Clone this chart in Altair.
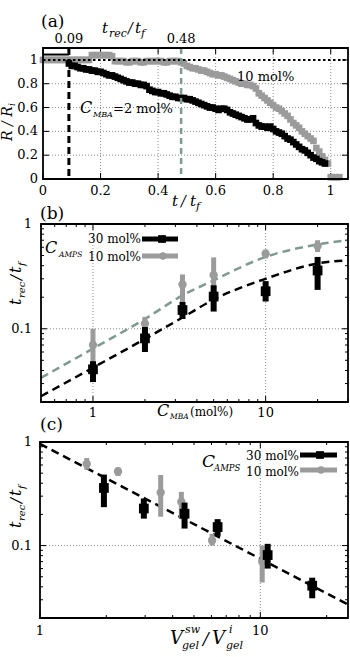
import altair as alt
import pandas as pd

FONT = "DejaVu Serif"
BLACK = "#000000"
GRAY = "#9b9b9b"
TEAL = "#7f9a90"
GRIDC = "#8c8c8c"

# ---------------- (a) normalised radius against normalised time ----------------
a_t_black = [0.09, 0.10, 0.11, 0.12, 0.13, 0.14, 0.15, 0.16, 0.17, 0.18, 0.19,
             0.20, 0.21, 0.22, 0.23, 0.24, 0.25, 0.26, 0.27, 0.28, 0.29,
             0.30, 0.31, 0.32, 0.33, 0.34, 0.35, 0.36, 0.37, 0.38, 0.39,
             0.40, 0.41, 0.42, 0.43, 0.44, 0.45, 0.46, 0.47, 0.48, 0.49,
             0.50, 0.51, 0.52, 0.53, 0.54, 0.55, 0.56, 0.57, 0.58, 0.59,
             0.60, 0.61, 0.62, 0.63, 0.64, 0.65, 0.66, 0.67, 0.68, 0.69,
             0.70, 0.71, 0.72, 0.73, 0.74, 0.75, 0.76, 0.77, 0.78, 0.79,
             0.80, 0.81, 0.82, 0.83, 0.84, 0.85, 0.86, 0.87, 0.88, 0.89,
             0.90, 0.91, 0.92, 0.93, 0.94, 0.95, 0.96, 0.97, 0.98]
a_r_black = [0.97, 0.95, 0.95, 0.94, 0.93, 0.93, 0.92, 0.92, 0.91, 0.91, 0.90,
             0.90, 0.89, 0.88, 0.87, 0.87, 0.86, 0.85, 0.84, 0.83, 0.82,
             0.81, 0.81, 0.80, 0.80, 0.79, 0.79, 0.78, 0.75, 0.74, 0.73,
             0.73, 0.72, 0.72, 0.71, 0.70, 0.69, 0.69, 0.68, 0.68, 0.68,
             0.67, 0.67, 0.66, 0.65, 0.64, 0.63, 0.62, 0.61, 0.60, 0.60,
             0.59, 0.58, 0.59, 0.59, 0.58, 0.56, 0.55, 0.54, 0.53, 0.52,
             0.51, 0.50, 0.50, 0.51, 0.47, 0.45, 0.44, 0.44, 0.43, 0.44,
             0.42, 0.40, 0.39, 0.38, 0.36, 0.34, 0.33, 0.31, 0.29, 0.27,
             0.25, 0.24, 0.22, 0.20, 0.18, 0.17, 0.15, 0.14, 0.13]

a_t_gray = [0.00, 0.01, 0.02, 0.03, 0.04, 0.05, 0.06, 0.07, 0.08, 0.09,
            0.10, 0.11, 0.12, 0.13, 0.14, 0.15, 0.16, 0.17, 0.18, 0.19,
            0.20, 0.21, 0.22, 0.23, 0.24, 0.25, 0.26, 0.27, 0.28, 0.29,
            0.30, 0.31, 0.32, 0.33, 0.34, 0.35, 0.36, 0.37, 0.38, 0.39,
            0.40, 0.41, 0.42, 0.43, 0.44, 0.45, 0.46, 0.47, 0.48, 0.49,
            0.50, 0.51, 0.52, 0.53, 0.54, 0.55, 0.56, 0.57, 0.58, 0.59,
            0.60, 0.61, 0.62, 0.63, 0.64, 0.65, 0.66, 0.67, 0.68, 0.69,
            0.70, 0.71, 0.72, 0.73, 0.74, 0.75, 0.76, 0.77, 0.78, 0.79,
            0.80, 0.81, 0.82, 0.83, 0.84, 0.85, 0.86, 0.87, 0.88, 0.89,
            0.90, 0.91, 0.92, 0.93, 0.94, 0.95, 0.96, 0.97, 0.98, 0.99,
            1.00, 1.01, 1.02, 1.03]
a_r_gray = [1.00, 1.00, 1.00, 1.00, 1.00, 1.00, 1.00, 1.00, 1.00, 1.00,
            1.00, 1.00, 1.00, 1.00, 1.00, 1.00, 1.00, 1.04, 1.04, 1.04,
            1.04, 1.04, 1.04, 1.04, 1.03, 0.99, 0.99, 0.99, 0.99, 0.98,
            0.98, 0.99, 0.99, 0.99, 0.98, 0.98, 0.99, 0.99, 0.99, 0.99,
            0.99, 0.99, 0.98, 0.98, 0.99, 0.99, 0.99, 0.99, 0.98, 0.97,
            0.95, 0.94, 0.93, 0.93, 0.92, 0.91, 0.91, 0.90, 0.89, 0.88,
            0.88, 0.87, 0.87, 0.86, 0.85, 0.84, 0.83, 0.82, 0.81, 0.80,
            0.80, 0.79, 0.79, 0.78, 0.76, 0.72, 0.70, 0.68, 0.66, 0.64,
            0.62, 0.60, 0.59, 0.57, 0.55, 0.53, 0.50, 0.47, 0.45, 0.43,
            0.40, 0.38, 0.36, 0.34, 0.32, 0.26, 0.23, 0.19, 0.16, 0.13,
            0.015, 0.015, 0.015, 0.015]

a_flat_t = [0.0, 0.09]
a_flat_r = [1.045, 1.045]
a_rec_t = [0.09, 0.48]
a_rec_labels = ["0.09", "0.48"]
a_ticks = [0, 0.2, 0.4, 0.6, 0.8, 1]
a_tick_labels = ["0", "0.2", "0.4", "0.6", "0.8", "1"]

# ---------------- (b) recovery time against crosslinker content ----------------
c_mba = [1, 2, 3.3, 5, 10, 20]
trec_30 = [0.041, 0.081, 0.151, 0.203, 0.228, 0.36]
lo_30 = [0.031, 0.060, 0.124, 0.146, 0.182, 0.235]
hi_30 = [0.049, 0.104, 0.180, 0.260, 0.285, 0.485]
trec_10 = [0.070, 0.112, 0.265, 0.325, 0.52, 0.615]
lo_10 = [0.044, 0.100, 0.180, 0.190, 0.47, 0.54]
hi_10 = [0.100, 0.130, 0.330, 0.480, 0.57, 0.70]

fit_c = [0.5, 1, 2, 3.3, 5, 10, 20, 30]
fit_30 = [0.0227, 0.0425, 0.080, 0.128, 0.19, 0.30, 0.42, 0.45]
fit_10 = [0.034, 0.0647, 0.124, 0.208, 0.29, 0.485, 0.638, 0.70]

# ---------------- (c) recovery time against swelling ratio ----------------
swell_30 = [17.2, 10.8, 6.4, 4.53, 2.96, 1.95]
swell_10 = [10.2, 6.04, 4.38, 3.53, 2.26, 1.63]
power_x = [1, 25]
power_y = [0.96, 0.027]

log_y_major = [0.1, 1]
log_y_labels = ["0.1", "1"]
log_y_minor = [0.02, 0.03, 0.04, 0.05, 0.06, 0.07, 0.08, 0.09,
               0.2, 0.3, 0.4, 0.5, 0.6, 0.7, 0.8, 0.9]
log_x_major = [1, 10]
log_x_labels = ["1", "10"]
b_x_minor = [0.5, 0.6, 0.7, 0.8, 0.9, 2, 3, 4, 5, 6, 7, 8, 9, 20, 30]
c_x_minor = [2, 3, 4, 5, 6, 7, 8, 9, 20]

ONE = pd.DataFrame({"k": [0]})


def txt(s, x, y, size=13, italic=False, align="left", baseline="alphabetic", angle=0):
    kw = dict(text=s, font=FONT, fontSize=size, align=align, baseline=baseline, color=BLACK)
    if italic:
        kw["fontStyle"] = "italic"
    if angle:
        kw["angle"] = angle
    return alt.Chart(ONE).mark_text(**kw).encode(x=alt.value(x), y=alt.value(y))


def frame(x0, x1, y0, y1):
    return alt.Chart(ONE).mark_rect(fillOpacity=0, stroke=BLACK, strokeWidth=1.8).encode(
        x=alt.value(x0), x2=alt.value(x1), y=alt.value(y0), y2=alt.value(y1))


def hrule(x0, x1, y, color, width):
    return alt.Chart(ONE).mark_rule(color=color, strokeWidth=width).encode(
        x=alt.value(x0), x2=alt.value(x1), y=alt.value(y))


def vals(v, labels=None):
    d = {"v": v}
    if labels is not None:
        d["lab"] = labels
    return pd.DataFrame(d)


def encoders(xs, ys):
    def X(f):
        return alt.X(f, type="quantitative", scale=xs, axis=None)

    def Y(f):
        return alt.Y(f, type="quantitative", scale=ys, axis=None)
    return X, Y


def inner_ticks(X, Y, xmaj, xmin, ymaj, ymin, x0, x1, y0, y1):
    out = []
    for v, ln in ((xmaj, 6), (xmin, 3)):
        out.append(alt.Chart(vals(v)).mark_rule(color=BLACK, strokeWidth=1).encode(
            x=X("v"), y=alt.value(y1), y2=alt.value(y1 - ln)))
        out.append(alt.Chart(vals(v)).mark_rule(color=BLACK, strokeWidth=1).encode(
            x=X("v"), y=alt.value(y0), y2=alt.value(y0 + ln)))
    for v, ln in ((ymaj, 6), (ymin, 3)):
        out.append(alt.Chart(vals(v)).mark_rule(color=BLACK, strokeWidth=1).encode(
            y=Y("v"), x=alt.value(x0), x2=alt.value(x0 + ln)))
        out.append(alt.Chart(vals(v)).mark_rule(color=BLACK, strokeWidth=1).encode(
            y=Y("v"), x=alt.value(x1), x2=alt.value(x1 - ln)))
    return out


def x_labels(X, ticks, labels, y):
    return alt.Chart(vals(ticks, labels)).mark_text(
        font=FONT, fontSize=13, baseline="middle", color=BLACK).encode(
        x=X("v"), y=alt.value(y), text="lab:N")


def y_labels(Y, ticks, labels, x):
    return alt.Chart(vals(ticks, labels)).mark_text(
        font=FONT, fontSize=13, baseline="middle", align="right", color=BLACK).encode(
        y=Y("v"), x=alt.value(x), text="lab:N")


def trec_vertical(bx, y0):
    return [
        txt("t", bx, y0, 16, True, angle=270),
        txt("rec", bx + 4, y0 - 7, 10, True, angle=270),
        txt("/", bx, y0 - 25, 15, True, angle=270),
        txt("t", bx, y0 - 32, 16, True, angle=270),
        txt("f", bx + 4, y0 - 39, 10, True, angle=270),
    ]


grid_style = dict(color=GRIDC, strokeWidth=1, strokeDash=[1, 2])
dash_style = dict(strokeWidth=2.5, strokeDash=[8, 5], interpolate="monotone")

# ================= panel (a): frame x 43..348, y 48..179 =================
XA, YA = encoders(
    alt.Scale(domain=[0, 1.06], range=[43, 348], nice=False, zero=False),
    alt.Scale(domain=[0, 1.1], range=[179, 48], nice=False, zero=False),
)
panel_a = alt.layer(
    alt.Chart(vals(a_ticks[1:])).mark_rule(**grid_style).encode(
        x=XA("v"), y=alt.value(48), y2=alt.value(179)),
    alt.Chart(vals(a_ticks[1:-1])).mark_rule(**grid_style).encode(
        y=YA("v"), x=alt.value(43), x2=alt.value(348)),
    *inner_ticks(XA, YA, a_ticks, [], a_ticks, [], 43, 348, 48, 179),
    alt.Chart(pd.DataFrame({"t": a_t_gray, "r": a_r_gray})).mark_square(
        size=44, color=GRAY, opacity=1).encode(x=XA("t"), y=YA("r")),
    alt.Chart(pd.DataFrame({"t": a_t_black, "r": a_r_black})).mark_square(
        size=44, color=BLACK, opacity=1).encode(x=XA("t"), y=YA("r")),
    alt.Chart(pd.DataFrame({"t": a_flat_t, "r": a_flat_r})).mark_line(
        color=BLACK, strokeWidth=2).encode(x=XA("t"), y=YA("r")),
    alt.Chart(vals([1.0])).mark_rule(color=BLACK, strokeWidth=2, strokeDash=[2.5, 2.5]).encode(
        y=YA("v"), x=alt.value(43), x2=alt.value(348)),
    alt.Chart(vals(a_rec_t[:1])).mark_rule(color=BLACK, strokeWidth=3, strokeDash=[7, 4]).encode(
        x=XA("v"), y=alt.value(48), y2=alt.value(179)),
    alt.Chart(vals(a_rec_t[1:])).mark_rule(color=TEAL, strokeWidth=2.5, strokeDash=[6, 4]).encode(
        x=XA("v"), y=alt.value(48), y2=alt.value(179)),
    x_labels(XA, a_rec_t, a_rec_labels, 39),
    x_labels(XA, a_ticks, a_tick_labels, 191),
    y_labels(YA, a_ticks, a_tick_labels, 38),
    frame(43, 348, 48, 179),
    txt("(a)", 41, 22, 17, baseline="middle"),
    txt("t", 102, 33, 15, True),
    txt("rec", 109, 37, 11, True),
    txt("/", 128, 33, 14, True),
    txt("t", 135, 33, 15, True),
    txt("f", 141, 37, 11, True),
    txt("R / R", 12, 141, 14, True, angle=270),
    txt("i", 15, 106, 9, True, angle=270),
    txt("t", 172, 206, 15, True),
    txt("/", 181, 206, 14, True),
    txt("t", 190, 206, 15, True),
    txt("f", 196, 210, 11, True),
    txt("10 mol%", 237, 77, 13, baseline="middle"),
    txt("C", 80, 113, 16, True),
    txt("MBA", 93, 117, 8, True),
    txt("=2 mol%", 113, 113, 13),
)

# ================= panel (b): frame x 41..348, y 224..402 =================
XB, YB = encoders(
    alt.Scale(type="log", domain=[0.5, 30], range=[41, 348], nice=False),
    alt.Scale(type="log", domain=[0.02, 1], range=[402, 224], nice=False),
)
df30 = pd.DataFrame({"c": c_mba, "y": trec_30, "lo": lo_30, "hi": hi_30})
df10 = pd.DataFrame({"c": c_mba, "y": trec_10, "lo": lo_10, "hi": hi_10})
panel_b = alt.layer(
    alt.Chart(vals(log_x_major)).mark_rule(**grid_style).encode(
        x=XB("v"), y=alt.value(224), y2=alt.value(402)),
    alt.Chart(vals([0.1])).mark_rule(**grid_style).encode(
        y=YB("v"), x=alt.value(41), x2=alt.value(348)),
    *inner_ticks(XB, YB, log_x_major, b_x_minor, log_y_major, log_y_minor, 41, 348, 224, 402),
    alt.Chart(pd.DataFrame({"c": fit_c, "y": fit_10})).mark_line(color=TEAL, **dash_style).encode(
        x=XB("c"), y=YB("y")),
    alt.Chart(pd.DataFrame({"c": fit_c, "y": fit_30})).mark_line(color=BLACK, **dash_style).encode(
        x=XB("c"), y=YB("y")),
    alt.Chart(df10).mark_rule(color=GRAY, strokeWidth=5).encode(
        x=XB("c"), y=YB("lo"), y2=alt.Y2("hi")),
    alt.Chart(df10).mark_circle(size=70, color=GRAY, opacity=1).encode(x=XB("c"), y=YB("y")),
    alt.Chart(df30).mark_rule(color=BLACK, strokeWidth=6).encode(
        x=XB("c"), y=YB("lo"), y2=alt.Y2("hi")),
    alt.Chart(df30).mark_square(size=95, color=BLACK, opacity=1).encode(x=XB("c"), y=YB("y")),
    x_labels(XB, log_x_major, log_x_labels, 413),
    y_labels(YB, log_y_major, log_y_labels, 32),
    frame(41, 348, 224, 402),
    txt("(b)", 40, 214, 17, baseline="middle"),
    *trec_vertical(21, 305),
    txt("C", 157, 416, 16, True),
    txt("MBA", 170, 419, 7.5, True),
    txt("(mol%)", 190, 416, 12),
    txt("C", 45, 253, 16, True),
    txt("AMPS", 59, 257, 7.5, True),
    txt("30 mol%", 141, 239, 12, align="right", baseline="middle"),
    hrule(142, 178, 239, BLACK, 5),
    alt.Chart(ONE).mark_square(size=60, color=BLACK, opacity=1).encode(
        x=alt.value(162), y=alt.value(239)),
    txt("10 mol%", 141, 257, 12, align="right", baseline="middle"),
    hrule(142, 178, 256, GRAY, 5),
    alt.Chart(ONE).mark_circle(size=55, color=GRAY, opacity=1).encode(
        x=alt.value(163), y=alt.value(256)),
)

# ================= panel (c): frame x 40..348, y 442..618 =================
XC, YC = encoders(
    alt.Scale(type="log", domain=[1, 25], range=[40, 348], nice=False),
    alt.Scale(type="log", domain=[0.02, 1], range=[618, 442], nice=False),
)
dc30 = pd.DataFrame({"s": swell_30, "y": trec_30, "lo": lo_30, "hi": hi_30})
dc10 = pd.DataFrame({"s": swell_10, "y": trec_10, "lo": lo_10, "hi": hi_10})
panel_c = alt.layer(
    alt.Chart(vals([10])).mark_rule(**grid_style).encode(
        x=XC("v"), y=alt.value(442), y2=alt.value(618)),
    alt.Chart(vals([0.1])).mark_rule(**grid_style).encode(
        y=YC("v"), x=alt.value(40), x2=alt.value(348)),
    *inner_ticks(XC, YC, log_x_major, c_x_minor, log_y_major, log_y_minor, 40, 348, 442, 618),
    alt.Chart(pd.DataFrame({"s": power_x, "y": power_y})).mark_line(
        color=BLACK, strokeWidth=2.5, strokeDash=[8, 5]).encode(x=XC("s"), y=YC("y")),
    alt.Chart(dc10).mark_rule(color=GRAY, strokeWidth=5).encode(
        x=XC("s"), y=YC("lo"), y2=alt.Y2("hi")),
    alt.Chart(dc10).mark_circle(size=70, color=GRAY, opacity=1).encode(x=XC("s"), y=YC("y")),
    alt.Chart(dc30).mark_rule(color=BLACK, strokeWidth=6).encode(
        x=XC("s"), y=YC("lo"), y2=alt.Y2("hi")),
    alt.Chart(dc30).mark_square(size=95, color=BLACK, opacity=1).encode(x=XC("s"), y=YC("y")),
    x_labels(XC, log_x_major, log_x_labels, 631),
    y_labels(YC, log_y_major, log_y_labels, 32),
    frame(40, 348, 442, 618),
    txt("(c)", 40, 425, 17, baseline="middle"),
    *trec_vertical(21, 528),
    txt("V", 170, 644, 18, True),
    txt("sw", 185, 633, 11, True),
    txt("gel", 182, 649, 11, True),
    txt("/", 203, 644, 17, True),
    txt("V", 212, 644, 18, True),
    txt("i", 229, 633, 11, True),
    txt("gel", 226, 649, 11, True),
    txt("C", 202, 467, 17, True),
    txt("AMPS", 214, 471, 8.5, True),
    txt("30 mol%", 299, 456, 12, align="right", baseline="middle"),
    hrule(300, 337, 455, BLACK, 5),
    alt.Chart(ONE).mark_square(size=60, color=BLACK, opacity=1).encode(
        x=alt.value(320), y=alt.value(455)),
    txt("10 mol%", 299, 472, 12, align="right", baseline="middle"),
    hrule(300, 337, 470, GRAY, 5),
    alt.Chart(ONE).mark_circle(size=55, color=GRAY, opacity=1).encode(
        x=alt.value(321), y=alt.value(470)),
)

chart = alt.layer(panel_a, panel_b, panel_c).resolve_scale(
    x="independent", y="independent"
).properties(
    width=350, height=657, padding=0, autosize=alt.AutoSizeParams(type="none")
).configure_view(strokeWidth=0)

chart.save("out.html", embed_options={"renderer": "svg", "actions": False})
